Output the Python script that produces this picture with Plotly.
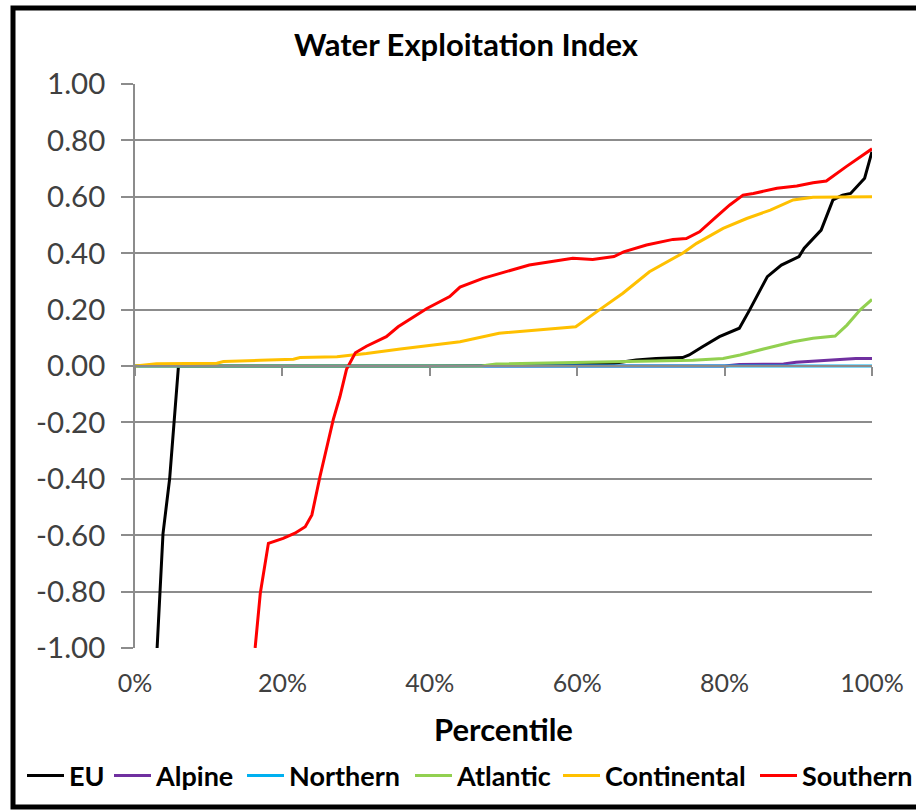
import plotly.graph_objects as go

# ---- data ----
eu_x = [0.030, 0.038, 0.047, 0.053, 0.059, 0.20, 0.40, 0.60, 0.65, 0.68, 0.707, 0.743, 0.752, 0.77,
        0.793, 0.82, 0.834, 0.858, 0.877, 0.901, 0.908, 0.931, 0.947, 0.96, 0.971, 0.99, 1.0]
eu_y = [-1.0, -0.594, -0.40, -0.203, 0.0, 0.0, 0.0, 0.005, 0.01, 0.021, 0.027, 0.03, 0.039, 0.068,
        0.104, 0.134, 0.199, 0.317, 0.358, 0.388, 0.418, 0.482, 0.589, 0.606, 0.612, 0.666, 0.76]

alpine_x = [0.0, 0.80, 0.82, 0.88, 0.897, 0.937, 0.978, 1.0]
alpine_y = [0.0, 0.0, 0.005, 0.007, 0.013, 0.021, 0.027, 0.027]

northern_x = [0.0, 0.25, 0.50, 0.75, 1.0]
northern_y = [0.0, 0.0, 0.0, 0.0, 0.0]

atlantic_x = [0.0, 0.47, 0.49, 0.585, 0.674, 0.757, 0.798, 0.821, 0.857, 0.893, 0.92, 0.95,
              0.966, 0.984, 1.0]
atlantic_y = [0.0, 0.0, 0.007, 0.012, 0.015, 0.02, 0.027, 0.039, 0.063, 0.086, 0.098, 0.106,
              0.145, 0.199, 0.236]

continental_x = [0.0, 0.029, 0.111, 0.12, 0.17, 0.215, 0.224, 0.274, 0.292, 0.314, 0.36, 0.441,
                 0.494, 0.571, 0.598, 0.63, 0.662, 0.698, 0.743, 0.762, 0.798, 0.83, 0.862,
                 0.893, 0.92, 1.0]
continental_y = [0.0, 0.008, 0.01, 0.016, 0.02, 0.024, 0.03, 0.033, 0.038, 0.044, 0.06, 0.086,
                 0.116, 0.134, 0.139, 0.199, 0.258, 0.334, 0.40, 0.435, 0.488, 0.523, 0.553,
                 0.589, 0.598, 0.60]

southern_x = [0.163, 0.17, 0.181, 0.201, 0.217, 0.231, 0.24, 0.251, 0.269, 0.278, 0.287, 0.299,
              0.314, 0.341, 0.357, 0.396, 0.427, 0.441, 0.472, 0.526, 0.535, 0.594, 0.621, 0.65,
              0.663, 0.694, 0.73, 0.748, 0.766, 0.789, 0.807, 0.825, 0.839, 0.871, 0.898, 0.92,
              0.938, 0.965, 1.0]
southern_y = [-1.0, -0.806, -0.629, -0.611, -0.593, -0.57, -0.528, -0.392, -0.19, -0.109, -0.012,
              0.047, 0.07, 0.104, 0.139, 0.204, 0.246, 0.28, 0.311, 0.352, 0.358, 0.382, 0.378,
              0.388, 0.405, 0.429, 0.449, 0.452, 0.476, 0.53, 0.571, 0.606, 0.612, 0.63, 0.638,
              0.65, 0.656, 0.707, 0.77]

y_ticks = [-1.0, -0.8, -0.6, -0.4, -0.2, 0.0, 0.2, 0.4, 0.6, 0.8, 1.0]
y_tick_labels = ["-1.00", "-0.80", "-0.60", "-0.40", "-0.20", "0.00",
                 "0.20", "0.40", "0.60", "0.80", "1.00"]
x_ticks = [0.0, 0.2, 0.4, 0.6, 0.8, 1.0]
x_tick_labels = ["0%", "20%", "40%", "60%", "80%", "100%"]

series = [
    ("EU", eu_x, eu_y, "#000000"),
    ("Alpine", alpine_x, alpine_y, "#7030A0"),
    ("Northern", northern_x, northern_y, "#00B0F0"),
    ("Atlantic", atlantic_x, atlantic_y, "#92D050"),
    ("Continental", continental_x, continental_y, "#FFC000"),
    ("Southern", southern_x, southern_y, "#FF0000"),
]
# left pixel of each legend entry (one legend box per series, laid out in a row)
legend_px = [22, 109, 242, 410, 558, 755]

FONT = "Lato"
W, H = 916, 810
ML, MR, MT, MB = 135, 44, 84, 162
PW, PH = W - ML - MR, H - MT - MB

fig = go.Figure()
legends = {}
for i, (name, xs, ys, col) in enumerate(series):
    key = "legend" if i == 0 else f"legend{i + 1}"
    fig.add_trace(go.Scatter(x=xs, y=ys, mode="lines", name=name, legend=key,
                             line=dict(color=col, width=3)))
    legends[key] = dict(orientation="h", x=(legend_px[i] - ML) / PW, xanchor="left",
                        y=(H - MB - 776) / PH, yanchor="middle",
                        font=dict(family=FONT, size=27, color="#000000", weight="bold"),
                        itemwidth=37, bgcolor="rgba(0,0,0,0)")

# invisible trace to carry the zero-crossing axis
fig.add_trace(go.Scatter(x=[0, 1], y=[0, 0], xaxis="x2", mode="lines",
                         line=dict(width=0), showlegend=False, hoverinfo="skip"))

GRID = "#8c8c8c"
fig.update_layout(
    width=W, height=H,
    margin=dict(l=ML, r=MR, t=MT, b=MB, pad=0, autoexpand=False),
    paper_bgcolor="white", plot_bgcolor="white",
    font=dict(family=FONT, color="#262626"),
    title=dict(text="<b>Water Exploitation Index</b>", x=466 / W, xanchor="center",
               y=1 - 45 / H, yanchor="middle", yref="container",
               font=dict(family=FONT, size=31, color="#000000")),
    xaxis=dict(range=[0, 1], tickvals=x_ticks, ticktext=x_tick_labels, showgrid=False,
               zeroline=False, showline=False, ticks="", ticklabelstandoff=18,
               tickfont=dict(size=25, color="#404040"),
               title=dict(text="<b>Percentile</b>", font=dict(size=31, color="#000000"),
                          standoff=23)),
    xaxis2=dict(range=[0, 1], overlaying="x", anchor="free", position=0.5,
                tickvals=x_ticks, showticklabels=False, ticks="outside", ticklen=9,
                tickwidth=1.5, tickcolor=GRID, showline=True, linecolor=GRID, linewidth=1.5,
                showgrid=False, zeroline=False, side="bottom"),
    yaxis=dict(range=[-1, 1], tickvals=y_ticks, ticktext=y_tick_labels, showgrid=True,
               gridcolor=GRID, gridwidth=1.5, zeroline=False, showline=True,
               linecolor=GRID, linewidth=1.5, ticks="outside", ticklen=12, tickwidth=1.5,
               tickcolor=GRID, ticklabelstandoff=10,
               tickfont=dict(size=29.5, color="#404040")),
    shapes=[dict(type="rect", xref="paper", yref="paper",
                 x0=(13 - ML) / PW, x1=(935 - ML) / PW,
                 y0=(H - MB - 807) / PH, y1=(H - MB - 8) / PH,
                 line=dict(color="black", width=5), layer="below")],
    showlegend=True,
    **legends,
)

fig.write_html("out.html", config={"displayModeBar": False},
               post_script="document.body.style.margin='0';")
